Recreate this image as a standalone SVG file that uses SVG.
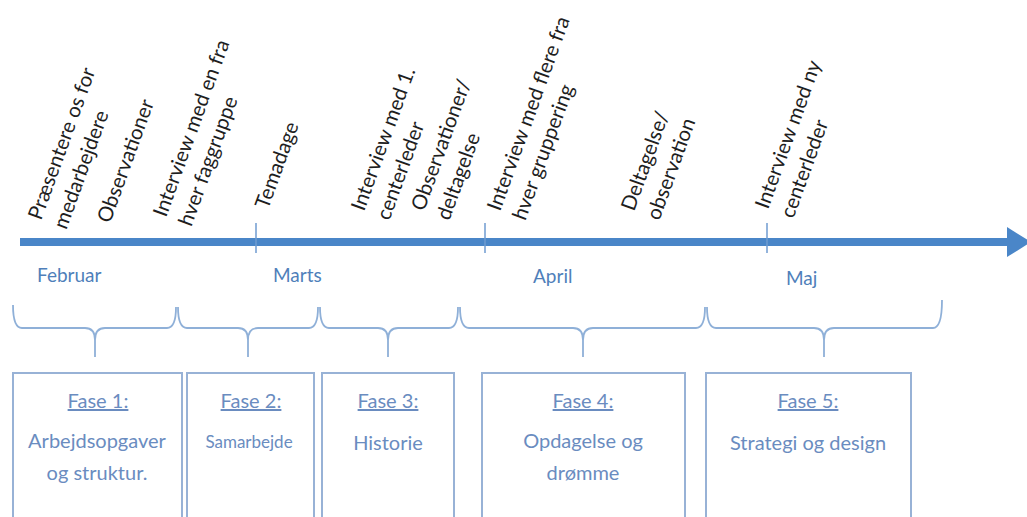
<svg xmlns="http://www.w3.org/2000/svg" width="1027" height="517" viewBox="0 0 1027 517">
<style>
.ev{font-family:Lato,"Liberation Sans",sans-serif;font-size:20.5px;fill:#1e1e1e}
.mo{font-family:Lato,"Liberation Sans",sans-serif;font-size:19px;fill:#4f7fba}
.fh{font-family:Lato,"Liberation Sans",sans-serif;font-size:20px;fill:#6a8cc0;text-anchor:middle;text-decoration:underline}
.fb{font-family:Lato,"Liberation Sans",sans-serif;font-size:20px;fill:#6a8cc0;text-anchor:middle}
.box{fill:#ffffff;stroke:#98b2d6;stroke-width:2}
.br{fill:none;stroke:#8fb0d8;stroke-width:1.8}
.tick{stroke:#6f9bd0;stroke-width:1.5}
</style>
<rect width="1027" height="517" fill="#ffffff"/>
<g id="timeline">
<line x1="20" y1="242" x2="1010" y2="242" stroke="#4a86c8" stroke-width="8"/>
<polygon points="1007,227 1031,242 1007,257" fill="#4a86c8"/>
<line class="tick" x1="256" y1="223" x2="256" y2="253"/>
<line class="tick" x1="485" y1="223" x2="485" y2="253"/>
<line class="tick" x1="767" y1="223" x2="767" y2="253"/>
</g>
<g id="events">
<text class="ev" transform="translate(41,221) rotate(-70)"><tspan x="0" y="0">Præsentere os for</tspan><tspan x="0" y="27">medarbejdere</tspan></text>
<text class="ev" transform="translate(110,224) rotate(-70)">Observationer</text>
<text class="ev" transform="translate(166,218) rotate(-70)"><tspan x="0" y="0">Interview med en fra</tspan><tspan x="0" y="27">hver faggruppe</tspan></text>
<text class="ev" transform="translate(268,210) rotate(-70)">Temadage</text>
<text class="ev" transform="translate(364,212) rotate(-70)"><tspan x="0" y="0">Interview med 1.</tspan><tspan x="0" y="27">centerleder</tspan></text>
<text class="ev" transform="translate(424,212) rotate(-70)"><tspan x="0" y="0">Observationer/</tspan><tspan x="0" y="27">deltagelse</tspan></text>
<text class="ev" transform="translate(500,212) rotate(-70)"><tspan x="0" y="0">Interview med flere fra</tspan><tspan x="0" y="27">hver gruppering</tspan></text>
<text class="ev" transform="translate(634,212) rotate(-70)"><tspan x="0" y="0">Deltagelse/</tspan><tspan x="0" y="27">observation</tspan></text>
<text class="ev" transform="translate(768,210) rotate(-70)"><tspan x="0" y="0">Interview med ny</tspan><tspan x="0" y="27">centerleder</tspan></text>
</g>
<g id="months">
<text class="mo" x="37" y="282">Februar</text>
<text class="mo" x="273" y="282">Marts</text>
<text class="mo" x="533" y="283">April</text>
<text class="mo" x="786" y="285">Maj</text>
</g>
<g id="connectors">
<path class="br" d="M13,305 Q13,328 22,328 L85,328 Q95,328 95,340 L95,357 M95,340 Q95,328 105,328 L167,328 Q176,328 176,307"/>
<path class="br" d="M178,307 Q178,328 187,328 L238,328 Q248,328 248,340 L248,357 M248,340 Q248,328 258,328 L309,328 Q318,328 318,307"/>
<path class="br" d="M320,307 Q320,328 329,328 L378,328 Q388,328 388,340 L388,357 M388,340 Q388,328 398,328 L449,328 Q458,328 458,307"/>
<path class="br" d="M460,307 Q460,328 469,328 L573,328 Q583,328 583,340 L583,357 M583,340 Q583,328 593,328 L696,328 Q705,328 705,307"/>
<path class="br" d="M707,307 Q707,328 716,328 L814,328 Q824,328 824,340 L824,357 M824,340 Q824,328 834,328 L933,328 Q942,328 942,300"/>
</g>
<g id="fase1">
<rect class="box" x="13" y="373" width="169" height="160"/>
<text class="fh" x="98" y="408">Fase 1:</text>
<text class="fb" x="97" y="448">Arbejdsopgaver</text>
<text class="fb" x="97" y="480">og struktur.</text>
</g>
<g id="fase2">
<rect class="box" x="187" y="373" width="127" height="160"/>
<text class="fh" x="251" y="408">Fase 2:</text>
<text class="fb" x="249" y="448" style="font-size:17px">Samarbejde</text>
</g>
<g id="fase3">
<rect class="box" x="322" y="373" width="132" height="160"/>
<text class="fh" x="388" y="408">Fase 3:</text>
<text class="fb" x="388" y="450">Historie</text>
</g>
<g id="fase4">
<rect class="box" x="482" y="373" width="203" height="160"/>
<text class="fh" x="583" y="408">Fase 4:</text>
<text class="fb" x="583" y="448">Opdagelse og</text>
<text class="fb" x="583" y="480">drømme</text>
</g>
<g id="fase5">
<rect class="box" x="706" y="373" width="205" height="160"/>
<text class="fh" x="808" y="408">Fase 5:</text>
<text class="fb" x="808" y="450">Strategi og design</text>
</g>
</svg>
